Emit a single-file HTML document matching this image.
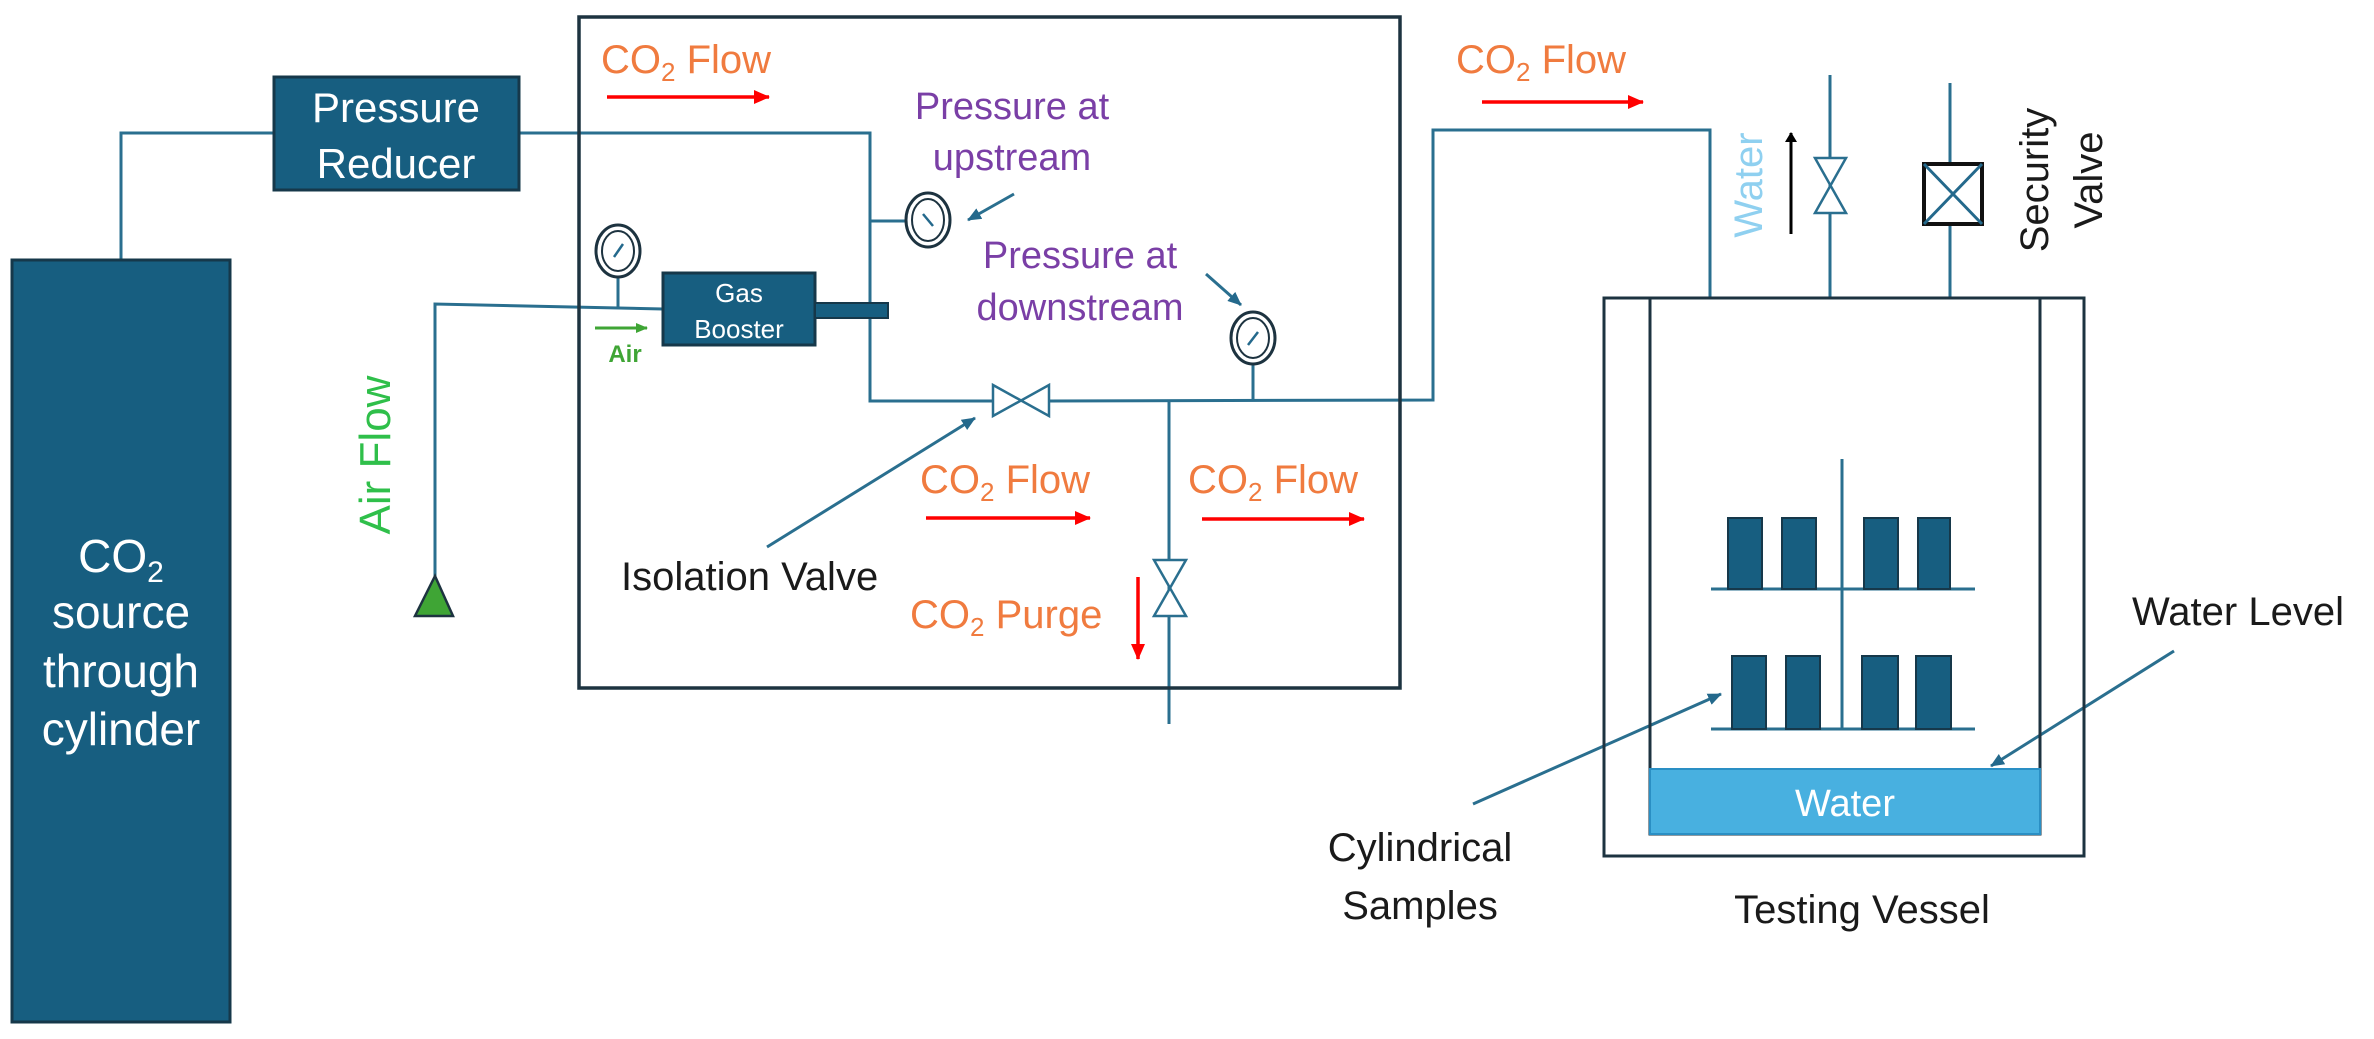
<!DOCTYPE html>
<html><head><meta charset="utf-8"><style>
html,body{margin:0;padding:0;background:#fff}
svg{display:block}
text{font-family:"Liberation Sans",sans-serif}
.o{fill:#f07b3f;font-size:40px}
.p{fill:#7a3fa6;font-size:38px}
.k{fill:#1a1a1a;font-size:40px}
.w{fill:#fff}
</style></head><body>
<svg width="2374" height="1039" viewBox="0 0 2374 1039" xmlns="http://www.w3.org/2000/svg">
<defs>
<marker id="ab" markerWidth="14" markerHeight="12" refX="13" refY="6" orient="auto" markerUnits="userSpaceOnUse"><path d="M0,0L14,6L0,12z" fill="#24698c"/></marker>
<marker id="ag" markerWidth="12" markerHeight="10" refX="11" refY="5" orient="auto" markerUnits="userSpaceOnUse"><path d="M0,0L12,5L0,10z" fill="#3fa535"/></marker>
<marker id="ak" markerWidth="10" markerHeight="12" refX="9" refY="6" orient="auto" markerUnits="userSpaceOnUse"><path d="M0,0L10,6L0,12z" fill="#000"/></marker>
<marker id="arr" markerWidth="16" markerHeight="14" refX="15" refY="7" orient="auto" markerUnits="userSpaceOnUse"><path d="M0,0L16,7L0,14z" fill="#f00"/></marker>
</defs>
<g fill="none" stroke="#2a6f8f" stroke-width="3">
<polyline points="121,260 121,133 274,133"/>
<polyline points="519,133 870,133 870,401 993,401"/>
<polyline points="1049,401 1433,400 1433,130 1710,130 1710,298"/>
<line x1="870" y1="221" x2="906" y2="221"/>
<line x1="1169" y1="401" x2="1169" y2="724"/>
<line x1="1253" y1="362" x2="1253" y2="400"/>
<line x1="618" y1="275" x2="618" y2="308"/>
<polyline points="663,309 435,304 435,578"/>
<line x1="1830" y1="75" x2="1830" y2="298"/>
<line x1="1950" y1="83" x2="1950" y2="298"/>
<line x1="1842" y1="459" x2="1842" y2="729"/>
<line x1="1711" y1="589" x2="1975" y2="589"/>
<line x1="1711" y1="729" x2="1975" y2="729"/>
<line x1="767" y1="547" x2="975" y2="418" marker-end="url(#ab)"/>
<line x1="1014" y1="194" x2="968" y2="220" marker-end="url(#ab)"/>
<line x1="1206" y1="274" x2="1241" y2="305" marker-end="url(#ab)"/>
<line x1="1473" y1="804" x2="1721" y2="694" marker-end="url(#ab)"/>
<line x1="2174" y1="651" x2="1991" y2="766" marker-end="url(#ab)"/>
</g>
<rect x="579" y="17" width="821" height="671" fill="none" stroke="#1d3340" stroke-width="3.5"/>
<rect x="12" y="260" width="218" height="762" fill="#175e80" stroke="#16384a" stroke-width="3"/>
<g class="w" font-size="46" text-anchor="middle">
<text x="121" y="572">CO<tspan font-size="30" dy="10">2</tspan></text>
<text x="121" y="628">source</text>
<text x="121" y="687">through</text>
<text x="121" y="745">cylinder</text>
</g>
<rect x="274" y="77" width="245" height="113" fill="#175e80" stroke="#16384a" stroke-width="3"/>
<g class="w" font-size="42" text-anchor="middle">
<text x="396" y="122">Pressure</text>
<text x="396" y="178">Reducer</text>
</g>
<rect x="663" y="273" width="152" height="72" fill="#175e80" stroke="#16384a" stroke-width="3"/>
<rect x="815" y="303" width="73" height="15" fill="#175e80" stroke="#16384a" stroke-width="2"/>
<g class="w" font-size="26" text-anchor="middle">
<text x="739" y="302">Gas</text>
<text x="739" y="338">Booster</text>
</g>
<g fill="#fff" stroke="#1d3340">
<ellipse cx="618" cy="251" rx="22" ry="26" stroke-width="3"/><ellipse cx="618" cy="251" rx="16" ry="20" stroke-width="2"/>
<ellipse cx="928" cy="220" rx="22" ry="27" stroke-width="3"/><ellipse cx="928" cy="220" rx="16" ry="21" stroke-width="2"/>
<ellipse cx="1253" cy="338" rx="22" ry="26" stroke-width="3"/><ellipse cx="1253" cy="338" rx="16" ry="20" stroke-width="2"/>
</g>
<g stroke="#24698c" stroke-width="2.5">
<line x1="614" y1="257" x2="623" y2="244"/>
<line x1="923" y1="214" x2="933" y2="226"/>
<line x1="1248" y1="345" x2="1258" y2="332"/>
</g>
<g fill="#fff" stroke="#2a6f8f" stroke-width="2.5">
<path d="M993,385 L1049,416 L1049,385 L993,416 Z"/>
<path d="M1154,560 L1186,616 L1154,616 L1186,560 Z"/>
<path d="M1815,158 L1846,213 L1815,213 L1846,158 Z"/>
</g>
<rect x="1924" y="164" width="58" height="60" fill="#fff" stroke="#111" stroke-width="4"/>
<path d="M1924,164L1982,224M1982,164L1924,224" stroke="#24698c" stroke-width="3"/>
<path d="M435,576 L453,616 L415,616 Z" fill="#3fa535" stroke="#1d3340" stroke-width="2.5"/>
<g stroke="#f00" stroke-width="3.5">
<line x1="607" y1="97" x2="769" y2="97" marker-end="url(#arr)"/>
<line x1="926" y1="518" x2="1090" y2="518" marker-end="url(#arr)"/>
<line x1="1202" y1="519" x2="1364" y2="519" marker-end="url(#arr)"/>
<line x1="1482" y1="102" x2="1643" y2="102" marker-end="url(#arr)"/>
<line x1="1138" y1="577" x2="1138" y2="659" marker-end="url(#arr)"/>
</g>
<line x1="595" y1="328" x2="647" y2="328" stroke="#3fa535" stroke-width="3" marker-end="url(#ag)"/>
<line x1="1791" y1="234" x2="1791" y2="133" stroke="#000" stroke-width="3" marker-end="url(#ak)"/>
<rect x="1604" y="298" width="480" height="558" fill="none" stroke="#1d3340" stroke-width="3"/>
<polyline points="1650,298 1650,834 2040,834 2040,298" fill="none" stroke="#1d3340" stroke-width="3"/>
<rect x="1650" y="769" width="390" height="65" fill="#48b0e0" stroke="#2a8fc4" stroke-width="2"/>
<text x="1845" y="816" class="w" font-size="38" text-anchor="middle">Water</text>
<g fill="#175e80" stroke="#16384a" stroke-width="2">
<rect x="1728" y="518" width="34" height="71"/><rect x="1782" y="518" width="34" height="71"/>
<rect x="1864" y="518" width="34" height="71"/><rect x="1918" y="518" width="32" height="71"/>
<rect x="1732" y="656" width="34" height="73"/><rect x="1786" y="656" width="34" height="73"/>
<rect x="1862" y="656" width="36" height="73"/><rect x="1916" y="656" width="35" height="73"/>
</g>
<text x="601" y="73" class="o">CO<tspan font-size="26" dy="8">2</tspan><tspan dy="-8"> Flow</tspan></text>
<text x="920" y="493" class="o">CO<tspan font-size="26" dy="8">2</tspan><tspan dy="-8"> Flow</tspan></text>
<text x="1188" y="493" class="o">CO<tspan font-size="26" dy="8">2</tspan><tspan dy="-8"> Flow</tspan></text>
<text x="1456" y="73" class="o">CO<tspan font-size="26" dy="8">2</tspan><tspan dy="-8"> Flow</tspan></text>
<text x="910" y="628" class="o">CO<tspan font-size="26" dy="8">2</tspan><tspan dy="-8"> Purge</tspan></text>
<g class="p" text-anchor="middle">
<text x="1012" y="119">Pressure at</text>
<text x="1012" y="170">upstream</text>
<text x="1080" y="268">Pressure at</text>
<text x="1080" y="320">downstream</text>
</g>
<text x="621" y="590" class="k" fill="#1d3340">Isolation Valve</text>
<text x="625" y="362" fill="#3fa535" font-size="24" font-weight="bold" text-anchor="middle">Air</text>
<text transform="translate(390,455) rotate(-90)" fill="#2fbf4a" font-size="44" text-anchor="middle">Air Flow</text>
<text transform="translate(1762,185) rotate(-90)" fill="#8fd0f0" font-size="40" text-anchor="middle">Water</text>
<text transform="translate(2048,180) rotate(-90)" class="k" text-anchor="middle">Security</text>
<text transform="translate(2102,180) rotate(-90)" class="k" text-anchor="middle">Valve</text>
<g class="k" text-anchor="middle">
<text x="1420" y="861">Cylindrical</text>
<text x="1420" y="919">Samples</text>
<text x="1862" y="923">Testing Vessel</text>
<text x="2238" y="625">Water Level</text>
</g>
</svg>
</body></html>
